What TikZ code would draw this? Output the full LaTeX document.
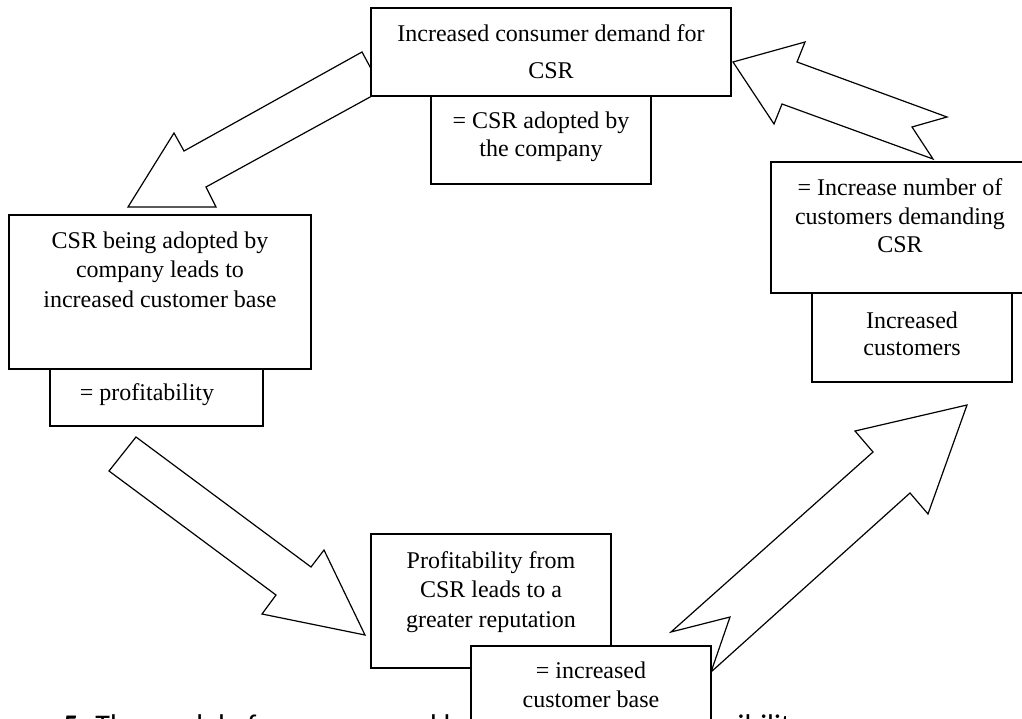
\documentclass[tikz,border=0pt]{standalone}
\usepackage{fontspec}
\setmainfont{Liberation Serif}
\newfontfamily\capfont{Carlito}
\newcommand\tbx[5]{\parbox[c][#2pt][t]{#1pt}{\centering\fontsize{24}{#4}\selectfont\rule{0pt}{#3pt}#5\par}}
\tikzset{
  boxnode/.style={draw, line width=1.4pt, fill=white, inner sep=0pt, outer sep=0pt},
  blockarrow/.style={draw, line width=1.2pt, fill=white, line join=miter}
}
\begin{document}
\begin{tikzpicture}[x=1pt,y=-1pt]
\clip (0,0) rectangle (1022,719);
\fill[white] (0,0) rectangle (1022,719);
% caption (mostly cut off at the bottom)
\node[anchor=base west, inner sep=0pt, font=\capfont\fontsize{30}{36}\selectfont] (cap) at (63,735) {\textbf{5.} The model of consumer and business social\hspace{12pt} responsibility};
% block arrows
\draw[blockarrow] (128,207) -- (174,133) -- (184,151) -- (362,52) -- (375,76) -- (392,85) -- (206,187) -- (216,207) -- cycle;
\draw[blockarrow] (733,62) -- (805,42) -- (797,62) -- (947,117) -- (912,127) -- (933,159) -- (782,104) -- (774,124) -- cycle;
\draw[blockarrow] (365,635) -- (324,550) -- (311,567) -- (136,437) -- (109,471) -- (276,595) -- (262,614) -- cycle;
\draw[blockarrow] (967,405) -- (855,431) -- (873,452) -- (671,632) -- (730,617) -- (711,672) -- (910,493) -- (928,514) -- cycle;
% boxes
\node[boxnode] (b2) at (541,140) {\tbx{220}{88}{33}{28}{= CSR adopted by\\the company}};
\node[boxnode] (b1) at (551,52) {\tbx{360}{88}{34}{37}{Increased consumer demand for\\CSR}};
\node[boxnode] (b3) at (160,292) {\tbx{302}{154}{33}{29.5}{CSR being adopted by\\company leads to\\increased customer base}};
\node[boxnode] (b4) at (156.5,397.5) {\tbx{213}{57}{31}{28}{= profitability\hspace*{19pt}}};
\node[boxnode] (b5) at (900,227.5) {\tbx{258}{131}{34}{28.5}{= Increase number of\\customers demanding\\CSR}};
\node[boxnode] (b6) at (912,337.5) {\tbx{200}{89}{35}{27}{Increased\\customers}};
\node[boxnode] (b7) at (491,601) {\tbx{240}{134}{34}{29.5}{Profitability from\\CSR leads to a\\greater reputation}};
\node[boxnode] (b8) at (591,698) {\tbx{240}{104}{32}{29}{= increased\\customer base}};
\end{tikzpicture}
\end{document}
